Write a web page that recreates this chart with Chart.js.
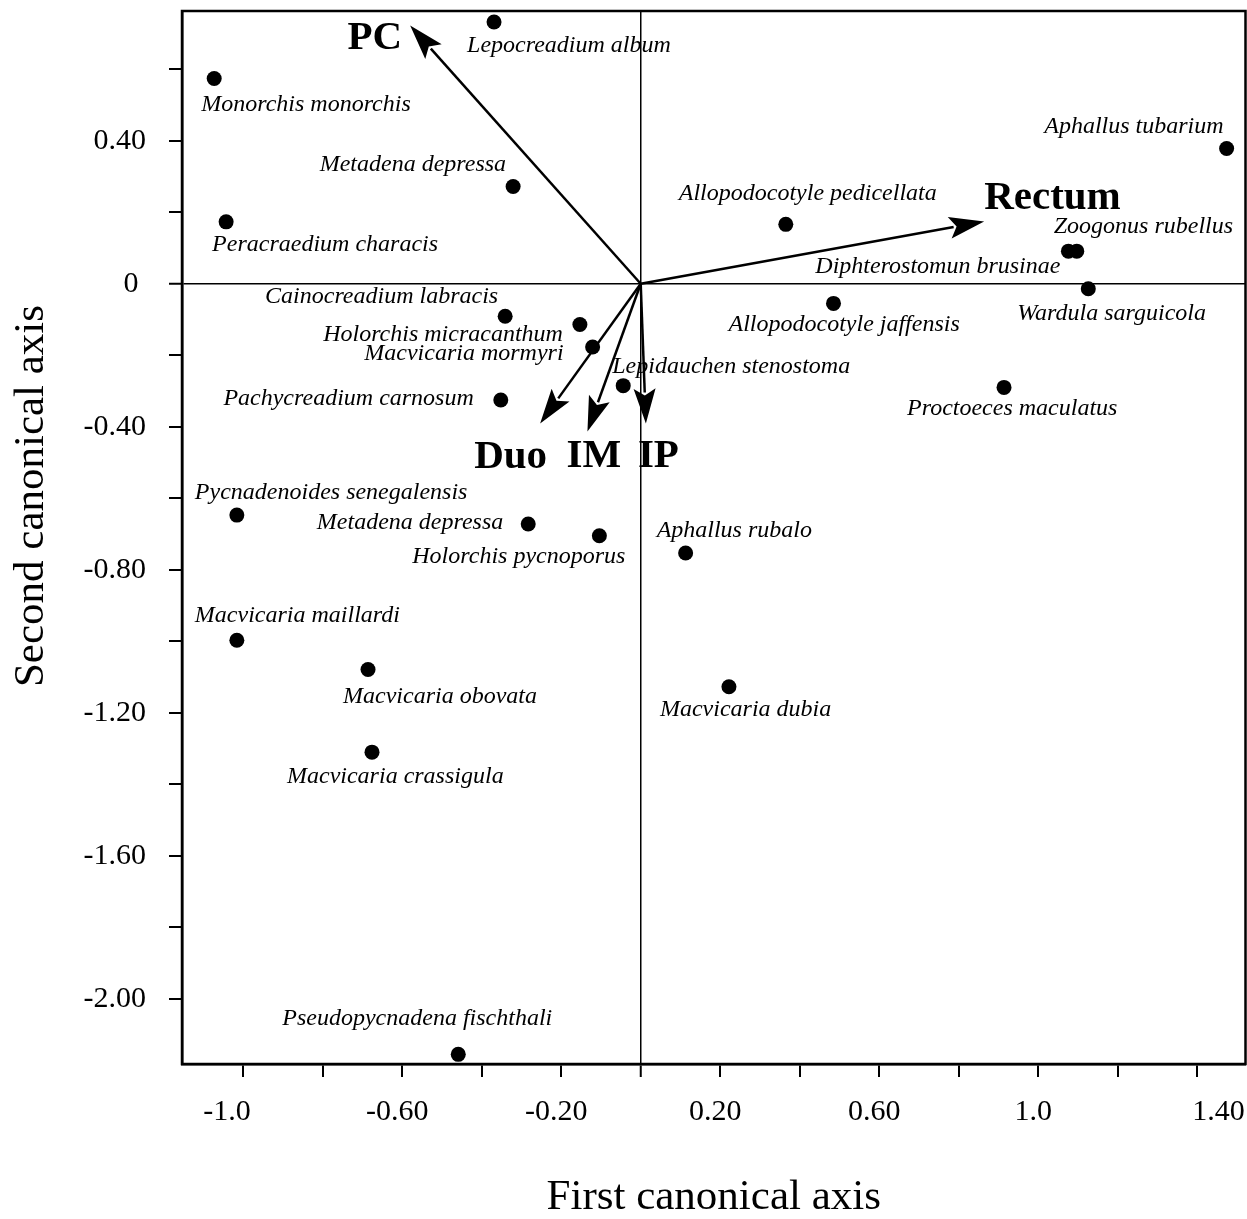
<!DOCTYPE html>
<html>
<head>
<meta charset="utf-8">
<script src="https://cdn.jsdelivr.net/npm/chart.js@4.4.1/dist/chart.umd.min.js"></script>
<style>
  html, body { margin: 0; padding: 0; background: #fff; }
  canvas { display: block; }
</style>
</head>
<body>
<canvas id="cca" width="1247" height="1219"></canvas>
<script>
// === data ===

// species scores on the two canonical axes
const species = [
  "Monorchis monorchis", "Lepocreadium album", "Metadena depressa", "Peracraedium characis",
  "Allopodocotyle pedicellata", "Aphallus tubarium", "Diphterostomun brusinae", "Zoogonus rubellus",
  "Wardula sarguicola", "Allopodocotyle jaffensis", "Cainocreadium labracis", "Holorchis micracanthum",
  "Macvicaria mormyri", "Lepidauchen stenostoma", "Pachycreadium carnosum", "Proctoeces maculatus",
  "Pycnadenoides senegalensis", "Metadena depressa", "Holorchis pycnoporus", "Aphallus rubalo",
  "Macvicaria maillardi", "Macvicaria obovata", "Macvicaria dubia", "Macvicaria crassigula",
  "Pseudopycnadena fischthali",
];
const axis1 = [
  -1.073, -0.369, -0.321, -1.043,
  0.365, 1.474, 1.076, 1.097,
  1.126, 0.485, -0.341, -0.153,
  -0.121, -0.044, -0.352, 0.914,
  -1.016, -0.283, -0.104, 0.113,
  -1.016, -0.686, 0.222, -0.676,
  -0.459,
];
const axis2 = [
  0.574, 0.732, 0.272, 0.173,
  0.166, 0.378, 0.091, 0.091,
  -0.014, -0.055, -0.091, -0.114,
  -0.177, -0.285, -0.325, -0.290,
  -0.647, -0.672, -0.705, -0.753,
  -0.997, -1.079, -1.127, -1.310,
  -2.155,
];

// habitat vectors (biplot arrows from the origin)
const habitats = ["PC", "Rectum", "Duo", "IM", "IP"];
const habitatAxis1 = [-0.58, 0.864, -0.253, -0.134, 0.013];
const habitatAxis2 = [0.722, 0.174, -0.391, -0.413, -0.391];

// tick labels
const xTickValues = [-1.0, -0.6, -0.2, 0.2, 0.6, 1.0, 1.4];
const xTickLabels = ["-1.0", "-0.60", "-0.20", "0.20", "0.60", "1.0", "1.40"];
const yTickValues = [0.4, 0, -0.4, -0.8, -1.2, -1.6, -2.0];
const yTickLabels = ["0.40", "0", "-0.40", "-0.80", "-1.20", "-1.60", "-2.00"];

// === label placement (align, dx, dy in px from the mark) ===

const speciesLabelPos = [
  ["left", -13, 33], ["left", -27, 30], ["right", -7, -15], ["left", -14, 29],
  ["left", -107, -24], ["right", -3, -16], ["right", -8, 22], ["left", -23, -18],
  ["left", -71, 31], ["left", -105, 28], ["right", -7, -13], ["right", -17, 17],
  ["right", -29, 13], ["left", -11, -13], ["right", -27, 5], ["left", -97, 28],
  ["left", -42, -16], ["right", -25, 5], ["right", 26, 27], ["left", -29, -16],
  ["left", -42, -18], ["left", -25, 33], ["left", -69, 29], ["left", -85, 31],
  ["right", 94, -29],
];
const habitatLabelPos = [
  ["right", -8, 23], ["left", 0, -12], ["left", -66, 44], ["left", -21, 36], ["left", -8, 43],
];

const FONT = '"Liberation Serif", "Times New Roman", serif';

// === helpers ===

function findLabel(values, labels, v) {
  for (let i = 0; i < values.length; i++) {
    if (Math.abs(values[i] - v) < 1e-6) return labels[i];
  }
  return "";
}

function drawArrow(ctx, x0, y0, x1, y1) {
  const ang = Math.atan2(y1 - y0, x1 - x0);
  const headLen = 35;
  const headHalf = 11;
  const bx = x1 - headLen * Math.cos(ang);
  const by = y1 - headLen * Math.sin(ang);
  ctx.beginPath();
  ctx.moveTo(x0, y0);
  ctx.lineTo(bx + 4 * Math.cos(ang), by + 4 * Math.sin(ang));
  ctx.stroke();
  ctx.beginPath();
  ctx.moveTo(x1, y1);
  ctx.lineTo(bx + headHalf * Math.sin(ang), by - headHalf * Math.cos(ang));
  ctx.lineTo(bx + 7 * Math.cos(ang), by + 7 * Math.sin(ang));
  ctx.lineTo(bx - headHalf * Math.sin(ang), by + headHalf * Math.cos(ang));
  ctx.closePath();
  ctx.fill();
}

// fixed axis boxes so the plot frame lands where the original one is
function fixBox(size) {
  return (s) => {
    if (s.isHorizontal()) s.height = size; else s.width = size;
    s.paddingTop = 0;
    s.paddingBottom = 0;
    s.paddingLeft = 0;
    s.paddingRight = 0;
  };
}

// === plugins ===

const framePlugin = {
  id: "frame",
  afterDraw(chart) {
    const { ctx, chartArea: a } = chart;
    ctx.save();
    ctx.strokeStyle = "#000";
    ctx.lineWidth = 2.5;
    ctx.strokeRect(a.left, a.top, a.right - a.left, a.bottom - a.top);
    ctx.restore();
  },
};

const biplotPlugin = {
  id: "biplot",
  afterDatasetsDraw(chart) {
    const { ctx, scales } = chart;
    const xs = scales.x, ys = scales.y;
    ctx.save();
    ctx.fillStyle = "#000";
    ctx.strokeStyle = "#000";
    ctx.lineWidth = 2.5;

    // arrows
    const ox = xs.getPixelForValue(0), oy = ys.getPixelForValue(0);
    habitats.forEach((h, i) => {
      const tx = xs.getPixelForValue(habitatAxis1[i]);
      const ty = ys.getPixelForValue(habitatAxis2[i]);
      drawArrow(ctx, ox, oy, tx, ty);
      const [align, dx, dy] = habitatLabelPos[i];
      ctx.font = "bold 41px " + FONT;
      ctx.textAlign = align;
      ctx.textBaseline = "alphabetic";
      ctx.fillText(h, tx + dx, ty + dy);
    });

    // species names
    ctx.font = "italic 24px " + FONT;
    ctx.textBaseline = "alphabetic";
    species.forEach((name, i) => {
      const px = xs.getPixelForValue(axis1[i]);
      const py = ys.getPixelForValue(axis2[i]);
      const [align, dx, dy] = speciesLabelPos[i];
      ctx.textAlign = align;
      ctx.fillText(name, px + dx, py + dy);
    });

    // y axis title
    ctx.font = "43px " + FONT;
    ctx.textAlign = "center";
    ctx.translate(43, 496);
    ctx.rotate(-Math.PI / 2);
    ctx.fillText("Second canonical axis", 0, 0);
    ctx.restore();
  },
};

// === chart ===

const zeroColor = (c) => (c.tick && Math.abs(c.tick.value) < 1e-9 ? "#000" : "rgba(0,0,0,0)");
const zeroWidth = (c) => (c.tick && Math.abs(c.tick.value) < 1e-9 ? 1.5 : 0);

new Chart(document.getElementById("cca"), {
  type: "scatter",
  data: {
    datasets: [
      {
        label: "Species",
        data: species.map((s, i) => ({ x: axis1[i], y: axis2[i] })),
        backgroundColor: "#000",
        borderWidth: 0,
        pointRadius: 7.5,
        pointHoverRadius: 7.5,
      },
    ],
  },
  options: {
    responsive: false,
    animation: false,
    events: [],
    layout: { autoPadding: false, padding: { top: 11, right: 1.5, left: 0, bottom: 0 } },
    plugins: {
      legend: { display: false },
      tooltip: { enabled: false },
    },
    scales: {
      x: {
        type: "linear",
        position: "bottom",
        min: -1.154,
        max: 1.5215,
        afterFit: fixBox(155),
        ticks: {
          stepSize: 0.2,
          includeBounds: false,
          autoSkip: false,
          maxRotation: 0,
          padding: 17,
          labelOffset: -5,
          color: "#000",
          font: { family: FONT, size: 30 },
          callback(v) {
            let t = findLabel(xTickValues, xTickLabels, v);
            if (t === "-1.0") t = t + "   ";
            if (t === "1.40") t = "       " + t;
            return t;
          },
        },
        grid: {
          drawOnChartArea: true,
          color: zeroColor,
          lineWidth: zeroWidth,
          drawTicks: true,
          tickLength: 13,
          tickColor: "#000",
          tickWidth: 2,
        },
        border: { display: true, color: "#000", width: 2.5 },
        title: {
          display: true,
          text: "First canonical axis",
          color: "#000",
          font: { family: FONT, size: 43, lineHeight: 1 },
          padding: { top: 0, bottom: 0 },
        },
      },
      y: {
        type: "linear",
        min: -2.182,
        max: 0.7626,
        afterFit: fixBox(182),
        ticks: {
          stepSize: 0.2,
          includeBounds: false,
          autoSkip: false,
          padding: 23,
          color: "#000",
          font: { family: FONT, size: 30 },
          callback(v) {
            const t = findLabel(yTickValues, yTickLabels, v);
            return t === "0" ? "0 " : t;
          },
        },
        grid: {
          drawOnChartArea: true,
          color: zeroColor,
          lineWidth: zeroWidth,
          drawTicks: true,
          tickLength: 13,
          tickColor: "#000",
          tickWidth: 2,
        },
        border: { display: true, color: "#000", width: 2.5 },
      },
    },
  },
  plugins: [framePlugin, biplotPlugin],
});
</script>
</body>
</html>
